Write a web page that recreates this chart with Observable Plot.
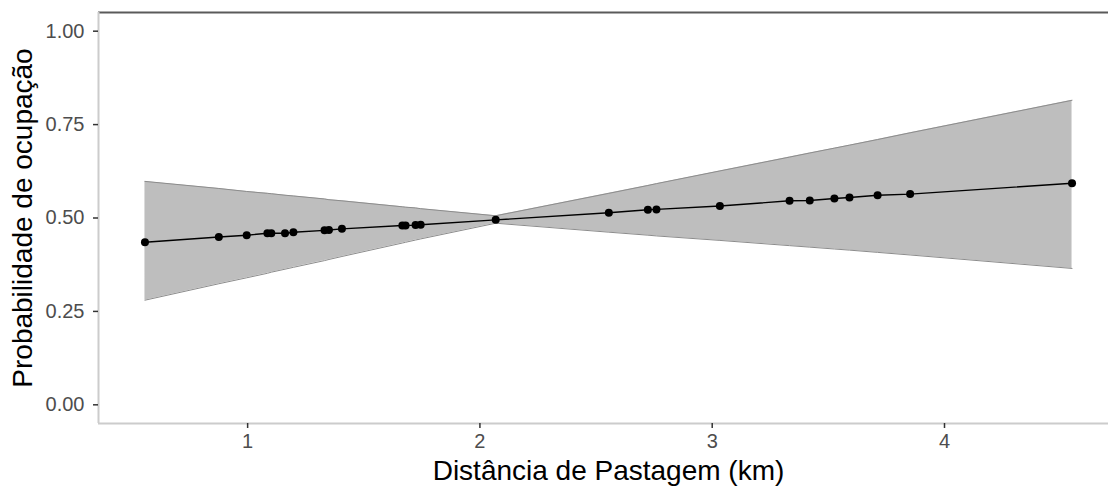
<!DOCTYPE html>
<html>
<head>
<meta charset="utf-8">
<script src="https://cdn.jsdelivr.net/npm/d3@7"></script>
<script src="https://cdn.jsdelivr.net/npm/@observablehq/plot@0.6"></script>
<style>
  html, body { margin: 0; padding: 0; background: #fff; overflow: hidden; }
  #chart svg { display: block; font-family: "Liberation Sans", Arial, sans-serif; }
</style>
</head>
<body>
<div id="chart"></div>
<script>
// Distância de Pastagem (km)
const distance = [0.558, 0.876, 0.996, 1.085, 1.102, 1.161, 1.197, 1.331, 1.350, 1.406,
  1.666, 1.680, 1.723, 1.745, 2.068, 2.555, 2.723, 2.760, 3.033, 3.333,
  3.420, 3.526, 3.591, 3.712, 3.852, 4.549];
// Probabilidade de ocupação (predicted)
const prob = [0.435, 0.449, 0.454, 0.459, 0.459, 0.459, 0.462, 0.467, 0.468, 0.471,
  0.480, 0.480, 0.481, 0.482, 0.495, 0.514, 0.522, 0.523, 0.532, 0.546,
  0.547, 0.552, 0.555, 0.561, 0.564, 0.593];
// lower / upper confidence bounds
const lower = [0.280, 0.324, 0.340, 0.352, 0.355, 0.363, 0.368, 0.386, 0.389, 0.397,
  0.433, 0.435, 0.441, 0.444, 0.486, 0.462, 0.454, 0.452, 0.440, 0.426,
  0.422, 0.417, 0.414, 0.408, 0.401, 0.365];
const upper = [0.598, 0.579, 0.571, 0.566, 0.565, 0.561, 0.559, 0.551, 0.549, 0.546,
  0.530, 0.529, 0.527, 0.525, 0.506, 0.566, 0.587, 0.592, 0.626, 0.663,
  0.674, 0.687, 0.695, 0.710, 0.728, 0.815];
const yTicks = [0, 0.25, 0.5, 0.75, 1];
const xTicks = [1, 2, 3, 4];
const xTitle = "Distância de Pastagem (km)";
const yTitle = "Probabilidade de ocupação";

const data = distance.map((d, i) => ({x: d, y: prob[i], lo: lower[i], hi: upper[i]}));

const chart = Plot.plot({
  width: 1108,
  height: 492,
  marginLeft: 98,
  marginRight: 0,
  marginTop: 12,
  marginBottom: 69,
  style: {fontFamily: '"Liberation Sans", Arial, sans-serif', background: "#fff"},
  x: {domain: [0.358, 4.706], axis: null},
  y: {domain: [-0.05, 1.05], axis: null},
  marks: [
    Plot.areaY(data, {x: "x", y1: "lo", y2: "hi", fill: "#bebebe"}),
    Plot.lineY(data, {x: "x", y: "hi", stroke: "#8c8c8c", strokeWidth: 1}),
    Plot.lineY(data, {x: "x", y: "lo", stroke: "#8c8c8c", strokeWidth: 1}),
    Plot.lineY(data, {x: "x", y: "y", stroke: "#000", strokeWidth: 1.4}),
    Plot.dot(data, {x: "x", y: "y", r: 4, fill: "#000", stroke: "none"}),
    Plot.ruleY([1.05], {stroke: "#5a5a5a", strokeWidth: 2}),
    Plot.ruleX([0.358], {stroke: "#cccccc", strokeWidth: 2}),
    Plot.ruleY([-0.05], {stroke: "#cccccc", strokeWidth: 2}),
    Plot.axisY(yTicks, {tickSize: 5, tickPadding: 9, tickFormat: d3.format(".2f"),
      stroke: "#333", strokeWidth: 1.5, fill: "#4d4d4d", fontSize: 20, label: null}),
    Plot.axisX(xTicks, {tickSize: 5, tickPadding: 5, tickFormat: d3.format("d"),
      stroke: "#333", strokeWidth: 1.5, fill: "#4d4d4d", fontSize: 20, label: null}),
    Plot.text([xTitle], {frameAnchor: "bottom", dx: 5, dy: 48, fontSize: 28, fill: "#000",
      textAnchor: "middle", lineAnchor: "middle"}),
    Plot.text([yTitle], {frameAnchor: "left", dx: -75, rotate: -90, fontSize: 28, fill: "#000",
      textAnchor: "middle", lineAnchor: "middle"})
  ]
});
document.getElementById("chart").appendChild(chart);
</script>
</body>
</html>
